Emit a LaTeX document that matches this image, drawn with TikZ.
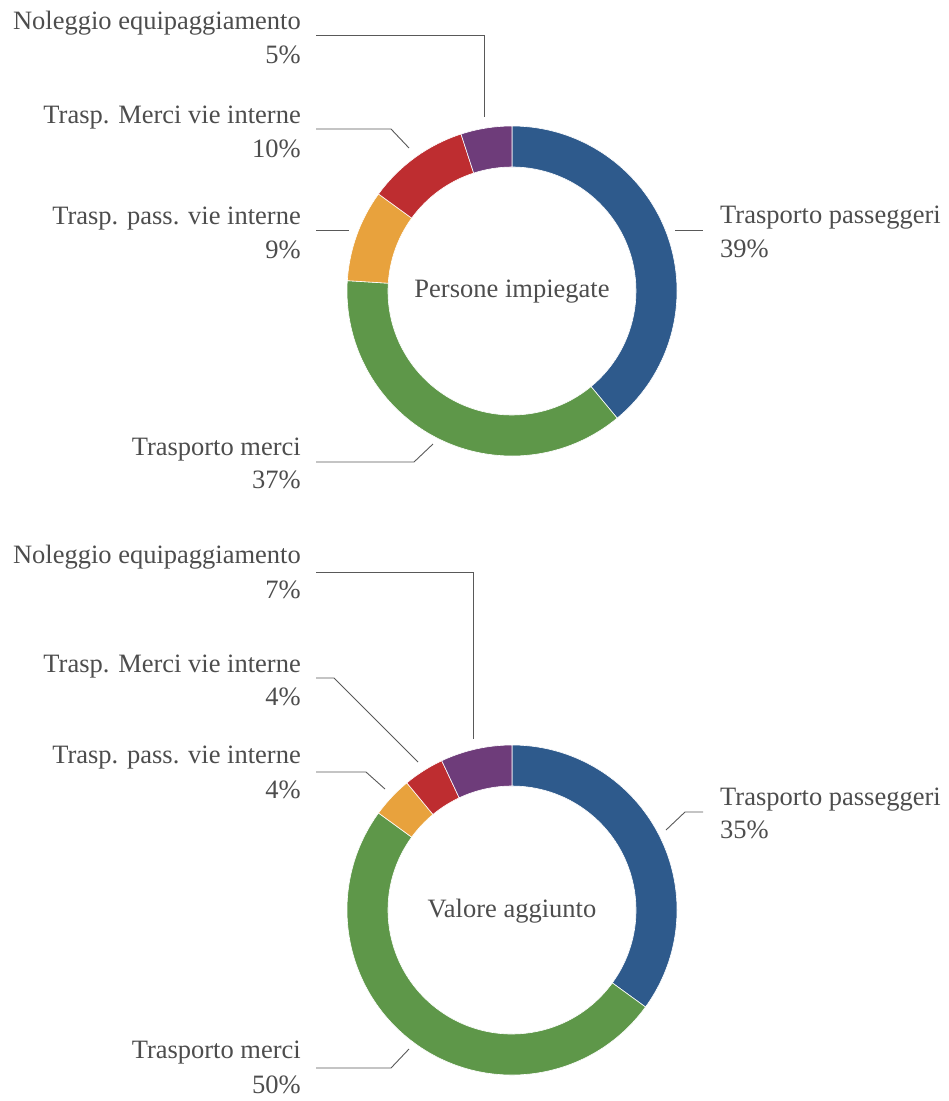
\documentclass[tikz,border=0pt]{standalone}
\usepackage{fontspec}
\setmainfont{Liberation Serif}
\definecolor{cblue}{HTML}{2E5A8C}
\definecolor{cgreen}{HTML}{5E9749}
\definecolor{corange}{HTML}{E8A23D}
\definecolor{cred}{HTML}{BE2D30}
\definecolor{cpurple}{HTML}{6E3C7A}
\definecolor{ctext}{HTML}{4D4D4D}
\definecolor{cline}{HTML}{595959}
\begin{document}
\begin{tikzpicture}[x=1pt,y=1pt,
  lbl/.style={inner sep=0pt,text=ctext,font=\fontsize{26.5}{32}\selectfont},
  lblL/.style={lbl,anchor=base east},
  lblR/.style={lbl,anchor=base west},
  leader/.style={draw=cline,line width=0.9pt},
  slice/.style={draw=white,line width=0.6pt}]
\useasboundingbox (0,0) rectangle (949,-1101);
% ---------- top donut ----------
\def\rout{165}\def\rin{124}
\begin{scope}[shift={(512,-291)}]
\foreach \a/\b/\c in {90/-50.4/cblue,-50.4/-183.6/cgreen,-183.6/-216/corange,-216/-252/cred,-252/-270/cpurple}{
  \filldraw[slice,fill=\c] (\a:\rout) arc[start angle=\a,end angle=\b,radius=\rout] -- (\b:\rin) arc[start angle=\b,end angle=\a,radius=\rin] -- cycle;
}
\node[lbl,anchor=base] (c1) at (0,-6) {Persone impiegate};
\end{scope}
% ---------- bottom donut ----------
\begin{scope}[shift={(512,-910)}]
\foreach \a/\b/\c in {90/-36/cblue,-36/-216/cgreen,-216/-230.4/corange,-230.4/-244.8/cred,-244.8/-270/cpurple}{
  \filldraw[slice,fill=\c] (\a:\rout) arc[start angle=\a,end angle=\b,radius=\rout] -- (\b:\rin) arc[start angle=\b,end angle=\a,radius=\rin] -- cycle;
}
\node[lbl,anchor=base] (c2) at (0,-7) {Valore aggiunto};
\end{scope}
% ---------- top labels ----------
\node[lblL] (t5a) at (301,-29) {Noleggio equipaggiamento};
\node[lblL] (t5b) at (301,-63) {5\%};
\node[lblL] (t4a) at (301,-123) {Trasp. Merci vie interne};
\node[lblL] (t4b) at (301,-157) {10\%};
\node[lblL] (t3a) at (301,-224) {Trasp. pass. vie interne};
\node[lblL] (t3b) at (301,-258) {9\%};
\node[lblL] (t2a) at (301,-455) {Trasporto merci};
\node[lblL] (t2b) at (301,-488) {37\%};
\node[lblR] (t1a) at (720,-223) {Trasporto passeggeri};
\node[lblR] (t1b) at (720,-257) {39\%};
% ---------- bottom labels ----------
\node[lblL] (b5a) at (301,-563) {Noleggio equipaggiamento};
\node[lblL] (b5b) at (301,-598) {7\%};
\node[lblL] (b4a) at (301,-672) {Trasp. Merci vie interne};
\node[lblL] (b4b) at (301,-705) {4\%};
\node[lblL] (b3a) at (301,-763) {Trasp. pass. vie interne};
\node[lblL] (b3b) at (301,-798) {4\%};
\node[lblL] (b2a) at (301,-1058) {Trasporto merci};
\node[lblL] (b2b) at (301,-1093) {50\%};
\node[lblR] (b1a) at (720,-805) {Trasporto passeggeri};
\node[lblR] (b1b) at (720,-838) {35\%};
% ---------- leader coordinates (top) ----------
\coordinate (t5s) at (316,-35);  \coordinate (t5k) at (484,-35);  \coordinate (t5e) at (484,-117);
\coordinate (t4s) at (316,-129); \coordinate (t4k) at (391,-129); \coordinate (t4e) at (409,-148);
\coordinate (t3s) at (316,-230); \coordinate (t3e) at (349,-230);
\coordinate (t2s) at (316,-462); \coordinate (t2k) at (414,-462); \coordinate (t2e) at (433,-444);
\coordinate (t1s) at (675,-230); \coordinate (t1e) at (703,-230);
% ---------- leader coordinates (bottom) ----------
\coordinate (b5s) at (316,-572);  \coordinate (b5k) at (473,-572);  \coordinate (b5e) at (473,-739);
\coordinate (b4s) at (316,-678);  \coordinate (b4k) at (334,-678);  \coordinate (b4e) at (418,-762);
\coordinate (b3s) at (316,-772);  \coordinate (b3k) at (366,-772);  \coordinate (b3e) at (385,-789);
\coordinate (b2s) at (316,-1068); \coordinate (b2k) at (391,-1068); \coordinate (b2e) at (409,-1049);
\coordinate (b1s) at (666,-830);  \coordinate (b1k) at (685,-812);  \coordinate (b1e) at (703,-812);
% ---------- leaders ----------
\draw[leader] (t5s) -- (t5k) -- (t5e);
\draw[leader] (t4s) -- (t4k) -- (t4e);
\draw[leader] (t3s) -- (t3e);
\draw[leader] (t2s) -- (t2k) -- (t2e);
\draw[leader] (t1s) -- (t1e);
\draw[leader] (b5s) -- (b5k) -- (b5e);
\draw[leader] (b4s) -- (b4k) -- (b4e);
\draw[leader] (b3s) -- (b3k) -- (b3e);
\draw[leader] (b2s) -- (b2k) -- (b2e);
\draw[leader] (b1s) -- (b1k) -- (b1e);
\end{tikzpicture}
\end{document}
